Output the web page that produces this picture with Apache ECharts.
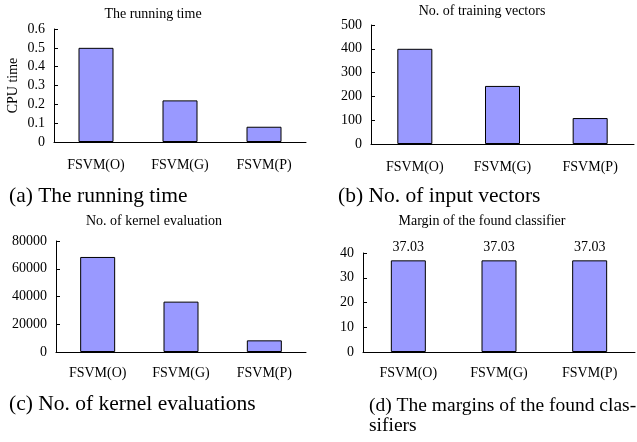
<!DOCTYPE html>
<html>
<head>
<meta charset="utf-8">
<script src="https://cdn.jsdelivr.net/npm/echarts@6/dist/echarts.min.js"></script>
<style>
  html, body { margin: 0; padding: 0; background: #fff; }
  #chart { width: 637px; height: 442px; }
</style>
</head>
<body>
<div id="chart"></div>
<script>
// values
const categories = ['FSVM(O)', 'FSVM(G)', 'FSVM(P)'];
const cpuTime = [0.5, 0.221, 0.081];
const trainingVectors = [400, 244, 109];
const kernelEvals = [68500, 36300, 8400];
const margins = [37.03, 37.03, 37.03];

const panelTitles = ['The running time', 'No. of training vectors', 'No. of kernel evaluation', 'Margin of the found classifier'];
const captions = ['(a) The running time', '(b) No. of input vectors', '(c) No. of kernel evaluations', '(d) The margins of the found clas-\nsifiers'];

const FONT = 'Liberation Serif';

// grid boxes [left, top, width, height]
const boxes = [
  [54, 29, 252, 113],
  [371, 25, 263, 119],
  [56, 241, 250, 111],
  [363, 253, 272, 99]
];
const axisMax = [0.6, 500, 80000, 40];
const axisStep = [0.1, 100, 20000, 10];
const seriesData = [cpuTime, trainingVectors, kernelEvals, margins];

const chart = echarts.init(document.getElementById('chart'));

const option = {
  animation: false,
  textStyle: { fontFamily: FONT },
  title: [
    { text: panelTitles[0], left: 153, top: 7 },
    { text: panelTitles[1], left: 482, top: 4 },
    { text: panelTitles[2], left: 154, top: 214 },
    { text: panelTitles[3], left: 482, top: 214 }
  ].map(t => ({
    text: t.text, left: t.left, top: t.top, textAlign: 'center', padding: 0,
    textStyle: { fontFamily: FONT, fontSize: 14, fontWeight: 'normal', color: '#000' }
  })),
  grid: boxes.map(b => ({ left: b[0], top: b[1], width: b[2], height: b[3] })),
  xAxis: boxes.map((b, i) => ({
    type: 'category',
    gridIndex: i,
    data: categories,
    axisLine: { lineStyle: { color: '#000', width: 1 } },
    axisTick: { inside: true, length: 4, lineStyle: { color: '#000' } },
    axisLabel: { color: '#000', fontFamily: FONT, fontSize: 14, margin: i < 2 ? 16 : 14 }
  })),
  yAxis: boxes.map((b, i) => ({
    type: 'value',
    gridIndex: i,
    min: 0,
    max: axisMax[i],
    interval: axisStep[i],
    name: i === 0 ? 'CPU time' : '',
    nameLocation: 'middle',
    nameGap: 34,
    nameTextStyle: { color: '#000', fontFamily: FONT, fontSize: 14 },
    axisLine: { show: true, lineStyle: { color: '#000', width: 1 } },
    axisTick: { show: true, inside: true, length: 4, lineStyle: { color: '#000' } },
    axisLabel: {
      color: '#000', fontFamily: FONT, fontSize: 14, margin: 9,
      formatter: v => String(Math.round(v * 10) / 10)
    },
    splitLine: { show: false }
  })),
  series: seriesData.map((d, i) => ({
    type: 'bar',
    xAxisIndex: i,
    yAxisIndex: i,
    data: d,
    barWidth: 35,
    itemStyle: { color: '#9999ff', borderColor: '#000', borderWidth: 1 },
    label: i === 3 ? {
      show: true, position: 'top', distance: 6,
      color: '#000', fontFamily: FONT, fontSize: 14,
      formatter: p => p.value.toFixed(2)
    } : { show: false }
  })),
  graphic: [
    { x: 9, y: 186, text: captions[0], size: 21.5 },
    { x: 338, y: 186, text: captions[1], size: 21.5 },
    { x: 9, y: 394, text: captions[2], size: 21.5 },
    { x: 369, y: 396, text: captions[3], size: 19.5 }
  ].map(c => ({
    type: 'text', x: c.x, y: c.y,
    style: { text: c.text, fontFamily: FONT, fontSize: c.size, fill: '#000', lineHeight: 20 }
  }))
};

chart.setOption(option);
</script>
</body>
</html>
